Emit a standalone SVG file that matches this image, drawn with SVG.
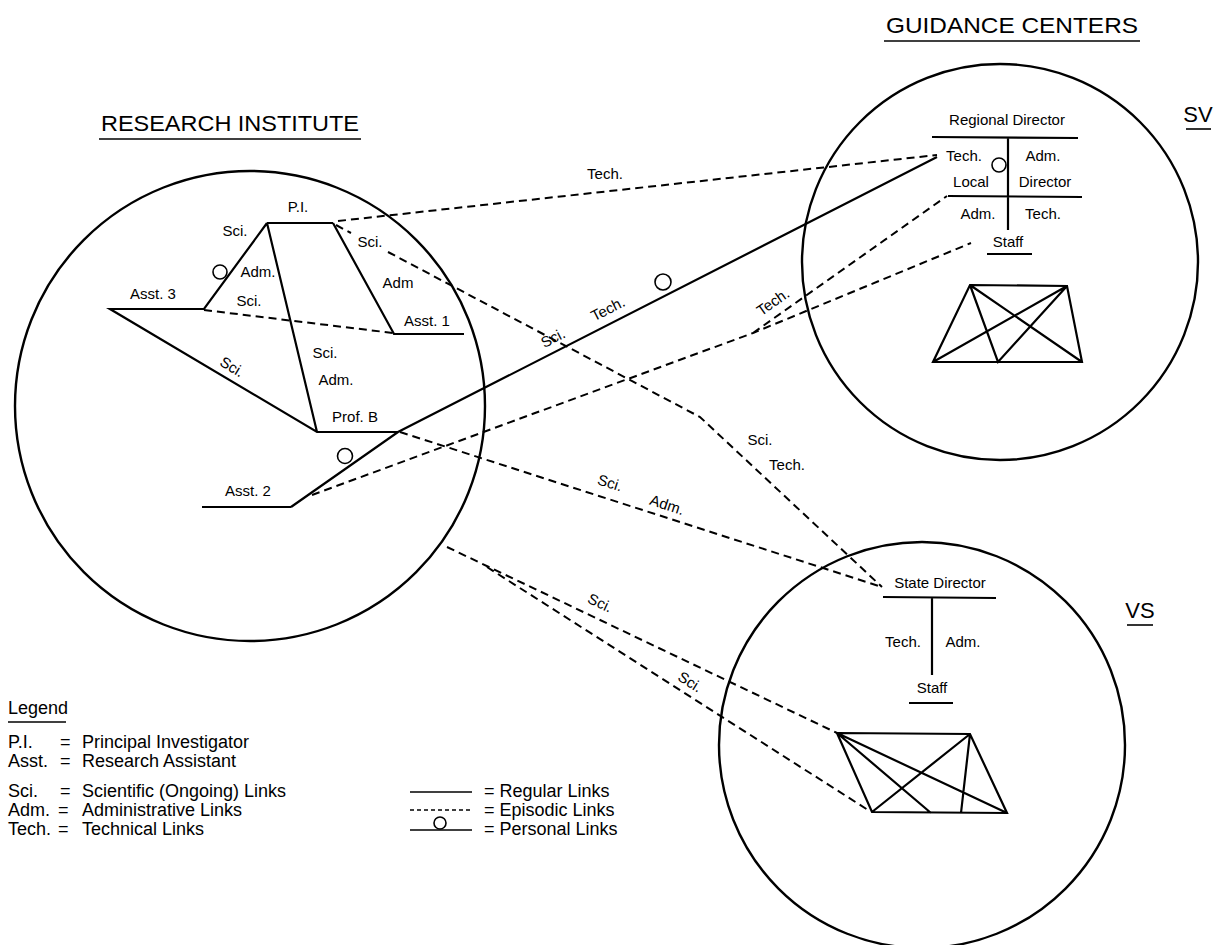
<svg xmlns="http://www.w3.org/2000/svg" width="1216" height="945" viewBox="0 0 1216 945">
<style>
text{font-family:"Liberation Sans",Arial,sans-serif;font-size:15px;fill:#000}
.h{font-size:22px}
.lg{font-size:18px}
.m{text-anchor:middle}
.s{stroke:#000;stroke-width:2.2;fill:none}
.t{stroke:#000;stroke-width:1.6;fill:none}
.d{stroke:#000;stroke-width:2;stroke-dasharray:8 5;fill:none}
.dl{stroke:#000;stroke-width:1.6;stroke-dasharray:4 3;fill:none}
.big{stroke:#000;stroke-width:2.4;fill:none}
.c{fill:#fff;stroke:#000;stroke-width:1.6}
</style>
<rect width="1216" height="945" fill="#fff"/>
<g id="headings">
<text class="h" x="886" y="33" textLength="252" lengthAdjust="spacingAndGlyphs">GUIDANCE CENTERS</text>
<line class="t" x1="884" y1="41" x2="1140" y2="41"/>
<text class="h" x="101" y="131" textLength="258" lengthAdjust="spacingAndGlyphs">RESEARCH INSTITUTE</text>
<line class="t" x1="99" y1="139" x2="361" y2="139"/>
<text class="h m" x="1198" y="122">SV</text>
<line class="t" x1="1186" y1="129" x2="1211" y2="129"/>
<text class="h m" x="1140" y="618">VS</text>
<line class="t" x1="1127" y1="625" x2="1153" y2="625"/>
</g>
<g id="research-institute">
<circle class="big" cx="250" cy="406" r="235"/>
<path class="s" d="M267,223 H333 M267,223 L204,309 H110 L317,432 H398 M267,223 L317,432 M333,223 L394,334 H464 M202,507 H291"/>
<path class="d" d="M204,310 L393,333"/>
<circle class="c" cx="220" cy="272" r="7"/>
<text class="m" x="298" y="212">P.I.</text>
<text class="m" x="235" y="236">Sci.</text>
<text class="m" x="258" y="277">Adm.</text>
<text class="m" x="249" y="306">Sci.</text>
<text class="m" x="398" y="288">Adm</text>
<text class="m" x="153" y="299">Asst. 3</text>
<text class="m" x="427" y="326">Asst. 1</text>
<text class="m" x="325" y="358">Sci.</text>
<text class="m" x="336" y="385">Adm.</text>
<text class="m" x="355" y="422">Prof. B</text>
<text class="m" x="248" y="496">Asst. 2</text>
<text class="m" transform="translate(232,367) rotate(31)" y="5">Sci.</text>
</g>
<g id="sv">
<circle class="big" cx="1000" cy="262" r="198"/>
<text class="m" x="1007" y="125">Regional Director</text>
<path class="s" d="M932,137 L1078,138 M1008,138 V230 M948,196 L1082,197 M987,254 H1032"/>
<circle class="c" cx="999" cy="165" r="7"/>
<text class="m" x="964" y="161">Tech.</text>
<text class="m" x="1043" y="161">Adm.</text>
<text class="m" x="971" y="187">Local</text>
<text class="m" x="1045" y="187">Director</text>
<text class="m" x="978" y="219">Adm.</text>
<text class="m" x="1043" y="219">Tech.</text>
<text class="m" x="1008" y="247">Staff</text>
<path class="s" d="M970,285 L1067,286 L1082,362 L933,362 Z M970,285 L1082,362 M1067,286 L933,362 M970,285 L998,362 L1067,286"/>
</g>
<g id="vs">
<circle class="big" cx="922" cy="745" r="203"/>
<text class="m" x="940" y="588">State Director</text>
<path class="s" d="M883,597 L996,598 M932,598 V675 M909,703 H953"/>
<text class="m" x="903" y="647">Tech.</text>
<text class="m" x="963" y="647">Adm.</text>
<text class="m" x="932" y="693">Staff</text>
<path class="s" d="M837,733 L970,734 L1007,813 L872,812 Z M837,733 L1007,813 M970,734 L872,812 M837,733 L931,813 M970,734 L961,813"/>
</g>
<g id="connectors">
<path class="d" d="M338,221 L937,155"/>
<text class="m" x="605" y="179">Tech.</text>
<path class="d" d="M336,225 L351,233 M388,252 L700,417 L882,587"/>
<text class="m" x="370" y="247">Sci.</text>
<text class="m" x="760" y="445">Sci.</text>
<text class="m" x="787" y="470">Tech.</text>
<path class="s" d="M291,507 L398,432 L937,157"/>
<circle class="c" cx="663" cy="282" r="8"/>
<circle class="c" cx="345" cy="456" r="7.5"/>
<text class="m" transform="translate(553,338) rotate(-27)" y="5">Sci.</text>
<text class="m" transform="translate(608,309) rotate(-27)" y="5">Tech.</text>
<path class="d" d="M312,495 L753,333 L971,243 M753,333 L947,196"/>
<text class="m" transform="translate(773,302) rotate(-35)" y="5">Tech.</text>
<path class="d" d="M400,432 L882,587"/>
<text class="m" transform="translate(610,483) rotate(18)" y="5">Sci.</text>
<text class="m" transform="translate(667,505) rotate(18)" y="5">Adm.</text>
<path class="d" d="M447,547 L837,733 M487,567 L868,810"/>
<text class="m" transform="translate(600,603) rotate(25)" y="5">Sci.</text>
<text class="m" transform="translate(690,682) rotate(32)" y="5">Sci.</text>
</g>
<g id="legend">
<text class="lg" x="8" y="714">Legend</text>
<line class="t" x1="8" y1="722" x2="66" y2="722"/>
<text class="lg" x="8" y="748">P.I.</text><text class="lg" x="60" y="748">=</text><text class="lg" x="82" y="748">Principal Investigator</text>
<text class="lg" x="8" y="767">Asst.</text><text class="lg" x="60" y="767">=</text><text class="lg" x="82" y="767">Research Assistant</text>
<text class="lg" x="8" y="797">Sci.</text><text class="lg" x="60" y="797">=</text><text class="lg" x="82" y="797">Scientific (Ongoing) Links</text>
<text class="lg" x="8" y="816">Adm.</text><text class="lg" x="58" y="816">=</text><text class="lg" x="82" y="816">Administrative Links</text>
<text class="lg" x="8" y="835">Tech.</text><text class="lg" x="58" y="835">=</text><text class="lg" x="82" y="835">Technical Links</text>
<line class="t" x1="410" y1="792" x2="472" y2="792"/>
<line class="dl" x1="410" y1="810" x2="472" y2="810"/>
<line class="t" x1="410" y1="830" x2="472" y2="830"/>
<circle class="c" cx="440" cy="823" r="6"/>
<text class="lg" x="484" y="797">= Regular Links</text>
<text class="lg" x="484" y="816">= Episodic Links</text>
<text class="lg" x="484" y="835">= Personal Links</text>
</g>
</svg>
